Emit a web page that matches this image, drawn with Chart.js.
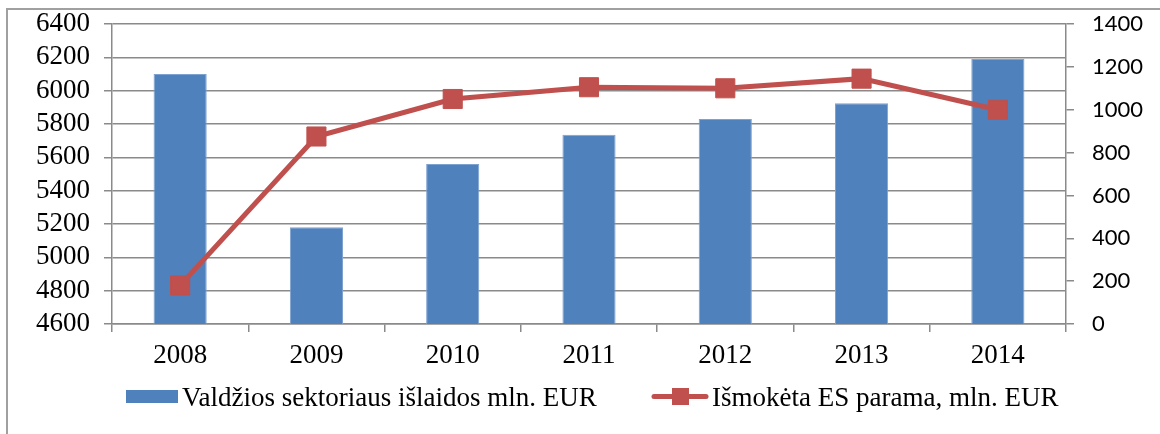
<!DOCTYPE html>
<html><head><meta charset="utf-8">
<script src="https://cdn.jsdelivr.net/npm/chart.js@4.4.1/dist/chart.umd.min.js"></script>
<style>html,body{margin:0;padding:0;background:#fff;}canvas{display:block}</style>
</head><body>
<canvas id="c" width="1160" height="434"></canvas>
<script>
const years = ['2008', '2009', '2010', '2011', '2012', '2013', '2014'];
const spending = [6100, 5180, 5560, 5735, 5830, 5925, 6190];
const euSupport = [180, 875, 1050, 1105, 1100, 1145, 1000];
const spendingLabel = 'Valdžios sektoriaus išlaidos mln. EUR';
const euLabel = 'Išmokėta ES parama, mln. EUR';
const leftRange = [4600, 6400];
const rightRange = [0, 1400];
const tickStep = 200;

const BLUE = '#4F81BD';
const RED = '#C0504D';
const GRID = '#8a8a8a';
const SERIF = {family: '"Liberation Serif", "Times New Roman", serif', size: 27};
const SANS = {family: 'Lato, "Liberation Sans", sans-serif', size: 22};

const framePlugin = {
  id: 'frame',
  beforeDraw(chart) {
    const ctx = chart.ctx;
    ctx.save();
    ctx.fillStyle = '#fff';
    ctx.fillRect(0, 0, chart.width, chart.height);
    ctx.strokeStyle = '#a0a0a0';
    ctx.lineWidth = 2;
    ctx.beginPath();
    ctx.moveTo(7, chart.height);
    ctx.lineTo(7, 9);
    ctx.lineTo(chart.width, 9);
    ctx.stroke();
    ctx.restore();
  }
};

const legendPlugin = {
  id: 'customLegend',
  afterDraw(chart) {
    const ctx = chart.ctx;
    const ds = chart.data.datasets;
    ctx.save();
    ctx.font = '27px "Liberation Serif", "Times New Roman", serif';
    ctx.textBaseline = 'alphabetic';
    ctx.fillStyle = ds[1].backgroundColor;
    ctx.fillRect(126, 390, 52, 13);
    ctx.fillStyle = '#000';
    ctx.fillText(ds[1].label, 182, 406);
    ctx.strokeStyle = ds[0].borderColor;
    ctx.lineWidth = 5;
    ctx.lineCap = 'round';
    ctx.beginPath();
    ctx.moveTo(654, 396.5);
    ctx.lineTo(706, 396.5);
    ctx.stroke();
    ctx.fillStyle = ds[0].pointBackgroundColor;
    ctx.fillRect(672, 388, 17, 17);
    ctx.fillStyle = '#000';
    ctx.fillText(ds[0].label, 712, 406);
    ctx.restore();
  }
};

function fixY(width) {
  return function (s) {
    s.width = width;
    s.paddingTop = 0;
    s.paddingBottom = 0;
  };
}

new Chart(document.getElementById('c'), {
  data: {
    labels: years,
    datasets: [
      {
        type: 'line',
        label: euLabel,
        data: euSupport,
        yAxisID: 'y1',
        borderColor: RED,
        borderWidth: 5,
        backgroundColor: RED,
        pointStyle: 'rect',
        pointRadius: 13.5,
        pointBorderWidth: 1,
        pointBackgroundColor: RED,
        pointBorderColor: RED,
        tension: 0,
        order: 0
      },
      {
        type: 'bar',
        label: spendingLabel,
        data: spending,
        yAxisID: 'y',
        backgroundColor: BLUE,
        borderColor: '#7ea2d0',
        borderWidth: 1,
        categoryPercentage: 1,
        barPercentage: 0.39,
        order: 1
      }
    ]
  },
  options: {
    responsive: false,
    animation: false,
    devicePixelRatio: 1,
    layout: {padding: {top: 24, bottom: 70, left: 0, right: 0}},
    plugins: {legend: {display: false}, tooltip: {enabled: false}},
    scales: {
      x: {
        type: 'category',
        offset: true,
        grid: {offset: true, drawOnChartArea: false, drawTicks: true, tickLength: 8, color: GRID, lineWidth: 1.5},
        border: {display: true, color: GRID, width: 1.5},
        ticks: {font: SERIF, color: '#000', padding: 8, maxRotation: 0, autoSkip: false},
        afterFit(s) { s.height = 40; s.paddingLeft = 0; s.paddingRight = 0; }
      },
      y: {
        position: 'left',
        min: leftRange[0],
        max: leftRange[1],
        ticks: {stepSize: tickStep, padding: 14, font: SERIF, color: '#000', autoSkip: false, callback: v => String(v)},
        grid: {color: GRID, lineWidth: 1.5, tickLength: 8},
        border: {display: true, color: GRID, width: 1.5},
        afterFit: fixY(112)
      },
      y1: {
        position: 'right',
        min: rightRange[0],
        max: rightRange[1],
        ticks: {stepSize: tickStep, padding: 18, font: SANS, color: '#000', autoSkip: false, callback: v => String(v)},
        grid: {drawOnChartArea: false, color: GRID, lineWidth: 1.5, tickLength: 8},
        border: {display: true, color: GRID, width: 1.5},
        afterFit: fixY(94)
      }
    }
  },
  plugins: [framePlugin, legendPlugin]
});
</script>
</body></html>
